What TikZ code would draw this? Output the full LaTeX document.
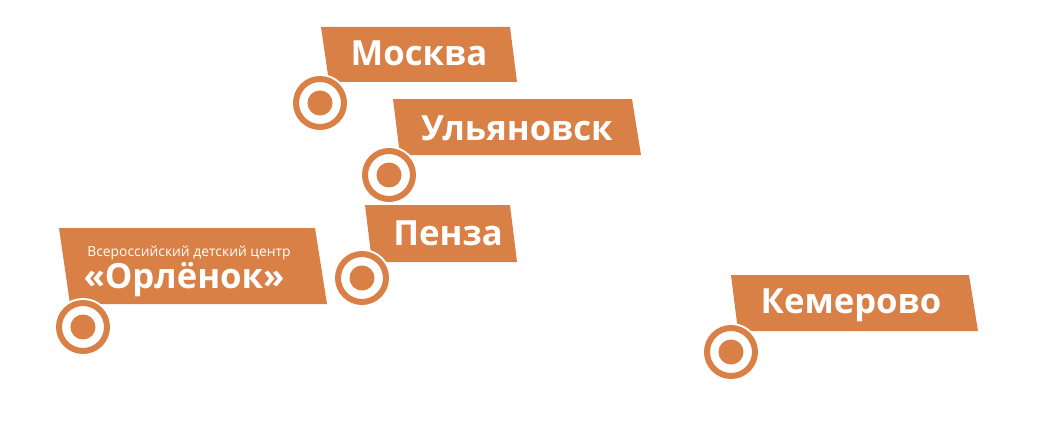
\documentclass[tikz,border=0pt]{standalone}
\usepackage{fontspec}
\setmainfont{Open Sans}
\usepackage{tikz}
\usetikzlibrary{positioning}
\definecolor{brand}{HTML}{D98046}

\begin{document}
\begin{tikzpicture}[
    x=0.75pt, y=-0.75pt,
    flag/.style={fill=brand},
    city/.style={anchor=base, inner sep=0pt, text=white, font=\bfseries\fontsize{26pt}{30pt}\selectfont},
    ring/.style={circle, inner sep=0pt, minimum size=36pt, fill=white, draw=brand, line width=4.5pt,
        preaction={draw=white, line width=7.5pt},
        path picture={\fill[brand] (path picture bounding box.center) circle (9.4pt);}}
]
\fill[white] (0,0) rectangle (1056,435);
\useasboundingbox (0,0) rectangle (1056,435);
% flags
\fill[flag] (321,27) -- (510,27) -- (517,82) -- (329,82) -- cycle;
\fill[flag] (393,99) -- (632,99) -- (641,155) -- (400,155) -- cycle;
\fill[flag] (365,205) -- (510,205) -- (517,262) -- (372,262) -- cycle;
\fill[flag] (59,228) -- (315,228) -- (327,304) -- (70,304) -- cycle;
\fill[flag] (731,275) -- (969,275) -- (978,331) -- (738,331) -- cycle;
% names
\node[city] (moscow) at (419,65) {Москва};
\node[city] (ulyanovsk) at (517,140) {Ульяновск};
\node[city] (penza) at (448,245) {Пенза};
\node[city] (kemerovo) at (851,313) {Кемерово};
\node[city, font=\fontsize{10.4pt}{13pt}\selectfont] (orlcenter) at (189,256) {Всероссийский детский центр};
\node[city, font=\bfseries\fontsize{26pt}{30pt}\selectfont] (orlyonok) at (184,288) {«Орлёнок»};
% markers
\node[ring] (moscow-pin) at (320,103) {};
\node[ring] (ulyanovsk-pin) at (389,175) {};
\node[ring] (penza-pin) at (362,278) {};
\node[ring] (orlyonok-pin) at (83,327) {};
\node[ring] (kemerovo-pin) at (731,352) {};
\end{tikzpicture}
\end{document}
